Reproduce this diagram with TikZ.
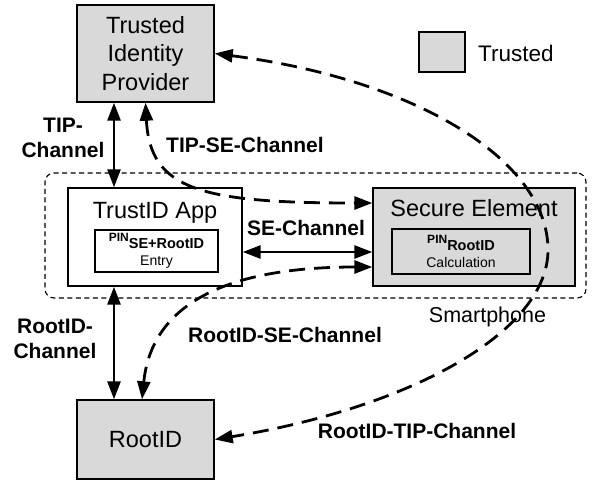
\documentclass[tikz,border=0pt]{standalone}
\usepackage{fontspec}
\setmainfont{Liberation Sans}
\usetikzlibrary{arrows.meta}
\definecolor{trustfill}{RGB}{217,217,217}
\begin{document}
\begin{tikzpicture}[x=1pt,y=-1pt,
  box/.style={draw=black, line width=1.4pt, inner sep=0pt},
  trusted/.style={box, fill=trustfill},
  big/.style={font=\fontsize{23.5pt}{28.5pt}\selectfont},
  small/.style={font=\fontsize{14pt}{17pt}\selectfont},
  chlabel/.style={font=\fontsize{21pt}{25pt}\selectfont\bfseries, inner sep=0pt},
  link/.style={line width=2.8pt, {Triangle[length=18pt,width=13pt]}-{Triangle[length=18pt,width=13pt]}},
  dlink/.style={link, dash pattern=on 16pt off 9pt},
]
\newcommand{\pinlabel}[1]{{\fontsize{12pt}{12pt}\selectfont\bfseries\raisebox{7pt}{PIN}}{\fontsize{14.5pt}{17pt}\selectfont\bfseries #1}}
\useasboundingbox (0,0) rectangle (593,483);

% smartphone boundary
\node[draw, line width=1.1pt, dash pattern=on 5pt off 3.5pt, rounded corners=9pt,
      minimum width=541pt, minimum height=125pt, inner sep=0pt] (phone) at (315.5,235.5) {};

% trusted identity provider
\node[trusted, minimum width=137pt, minimum height=97pt, big, align=center] (tip) at (145.5,53.5)
  {Trusted\\Identity\\Provider};

% legend
\node[trusted, minimum width=46pt, minimum height=40pt] (legbox) at (442,52) {};
\node[anchor=base west, inner sep=0pt, font=\fontsize{22.5pt}{27pt}\selectfont] (legtext) at (478,61) {Trusted};

% TrustID app
\node[box, fill=white, minimum width=174pt, minimum height=98pt] (app) at (155,237) {};
\node[big, anchor=base, inner sep=0pt] (apptitle) at ([yshift=-31pt]app.north) {TrustID App};
\node[box, small, minimum width=123pt, minimum height=42pt, align=center] (entry) at (156.5,251)
  {\pinlabel{SE+RootID}\\Entry};

% secure element
\node[trusted, minimum width=202pt, minimum height=98pt] (se) at (474,237) {};
\node[big, anchor=base, inner sep=0pt] (setitle) at ([yshift=-29pt]se.north) {Secure Element};
\node[trusted, small, minimum width=138pt, minimum height=45pt, align=center] (calc) at (461,251.5)
  {\pinlabel{RootID}\\Calculation};

% root identity
\node[trusted, minimum width=137pt, minimum height=79pt, big] (root) at (145.5,439.5) {RootID};

% channel labels
\node[chlabel, align=center, anchor=base] (tipchl) at (63,157) {TIP-\\Channel};
\node[chlabel, align=center, anchor=base] (rootchl) at (55,358) {RootID-\\Channel};
\node[chlabel, anchor=base west] (tipsel) at (166,152) {TIP-SE-Channel};
\node[chlabel, anchor=base] (sel) at (306,235) {SE-Channel};
\node[chlabel, anchor=base] (rootsel) at (285,342) {RootID-SE-Channel};
\node[chlabel, anchor=base] (roottipl) at (417,438) {RootID-TIP-Channel};
\node[anchor=base, inner sep=0pt, font=\fontsize{21.5pt}{25pt}\selectfont] (phonel) at (487.5,322) {Smartphone};

% solid channels
\draw[link] ([xshift=-31.5pt]tip.south) -- ([xshift=-41pt]app.north);
\draw[link] ([xshift=-41pt]app.south) -- ([xshift=-31.5pt]root.north);
\draw[link] ([yshift=-15pt]app.east) -- ([yshift=-15pt]se.west);

% dashed channels
\draw[dlink] (tip.south) .. controls +(4.5,87) and +(-172,0) .. ([yshift=34pt]se.west);
\draw[dlink] ([yshift=-30pt]se.west) .. controls +(-172,0) and +(8,-79) .. ([xshift=-3.5pt]root.north);
\coordinate (bend) at (548,250);
\draw[dlink] (tip.east) .. controls +(201,26) and +(0,-90) .. (bend)
  .. controls +(0,80) and +(201,-33) .. (root.east);
\end{tikzpicture}
\end{document}
